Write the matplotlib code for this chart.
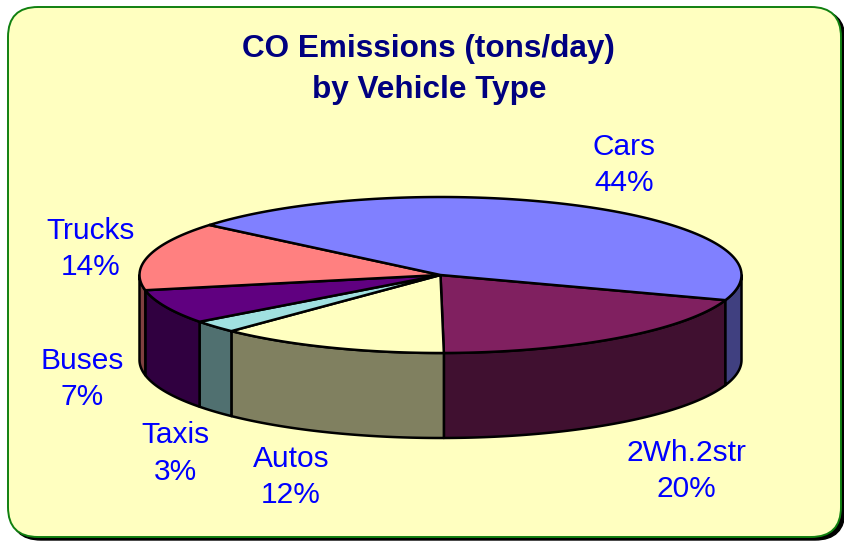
import numpy as np
import matplotlib
matplotlib.use("Agg")
import matplotlib.pyplot as plt
from matplotlib.patches import FancyBboxPatch, Polygon

categories = ["2Wh.2str", "Autos", "Taxis", "Buses", "Trucks", "Cars"]
percent = [19.6, 12.4, 2.55, 7.1, 14.2, 44.15]
top_colors = ["#802060", "#FFFFC0", "#A0E0E0", "#600080", "#FF8080", "#8080FF"]
side_colors = ["#401030", "#808060", "#507070", "#300040", "#804040", "#404080"]
label_xy = [(686, 471), (291, 477), (175, 453.5), (82, 379), (91, 249), (624, 165)]

plt.rcParams["font.family"] = ["Liberation Sans", "DejaVu Sans"]
fig = plt.figure(figsize=(8.44, 5.41), dpi=100, facecolor="white")
ax = fig.add_axes([0, 0, 1, 1])
ax.set_xlim(0, 844)
ax.set_ylim(541, 0)
ax.axis("off")

box = "round,pad=0,rounding_size=30"
ax.add_patch(FancyBboxPatch((11, 10), 834, 530, boxstyle=box, fc="black", ec="black", lw=1, zorder=1))
ax.add_patch(FancyBboxPatch((8, 7), 833, 530, boxstyle=box, fc="#FFFFC0", ec="#108010", lw=1.4, zorder=2))

cx, cy, rx, ry, depth = 440.5, 275.0, 301.0, 78.0, 85.0
start = -18.8
lw = 1.8


def rim(a0, a1, n=120):
    t = np.radians(np.linspace(a0, a1, n))
    return cx + rx * np.cos(t), cy - ry * np.sin(t)


shares = 360.0 * np.array(percent) / np.sum(percent)
edges = start - np.concatenate([[0], np.cumsum(shares)])

# Side walls: only the front half of the ellipse (-180..0 degrees) is visible
for i, col in enumerate(side_colors):
    a1, a0 = edges[i], edges[i + 1]
    for shift in (0, 360):
        hi, lo = min(a1 + shift, 0), max(a0 + shift, -180)
        if hi > lo:
            x, y = rim(hi, lo)
            pts = np.column_stack([np.r_[x, x[::-1]], np.r_[y, y[::-1] + depth]])
            ax.add_patch(Polygon(pts, closed=True, fc=col, ec="black", lw=lw, joinstyle="round", zorder=3))

# Top face
for i, col in enumerate(top_colors):
    x, y = rim(edges[i], edges[i + 1])
    pts = np.column_stack([np.r_[cx, x], np.r_[cy, y]])
    ax.add_patch(Polygon(pts, closed=True, fc=col, ec="black", lw=lw, joinstyle="round", zorder=4))

ax.text(428, 49, "CO Emissions (tons/day)", color="#000080", fontsize=22.7, fontweight="bold",
        ha="center", va="center", zorder=5)
ax.text(429, 90, "by Vehicle Type", color="#000080", fontsize=22.7, fontweight="bold",
        ha="center", va="center", zorder=5)

for name, p, (lx, ly) in zip(categories, percent, label_xy):
    ax.text(lx, ly, f"{name}\n{p:.0f}%", color="#0000FF", fontsize=21.5, ha="center", va="center",
            linespacing=1.4, zorder=5)

fig.savefig("out.png", dpi=100, facecolor="white")
